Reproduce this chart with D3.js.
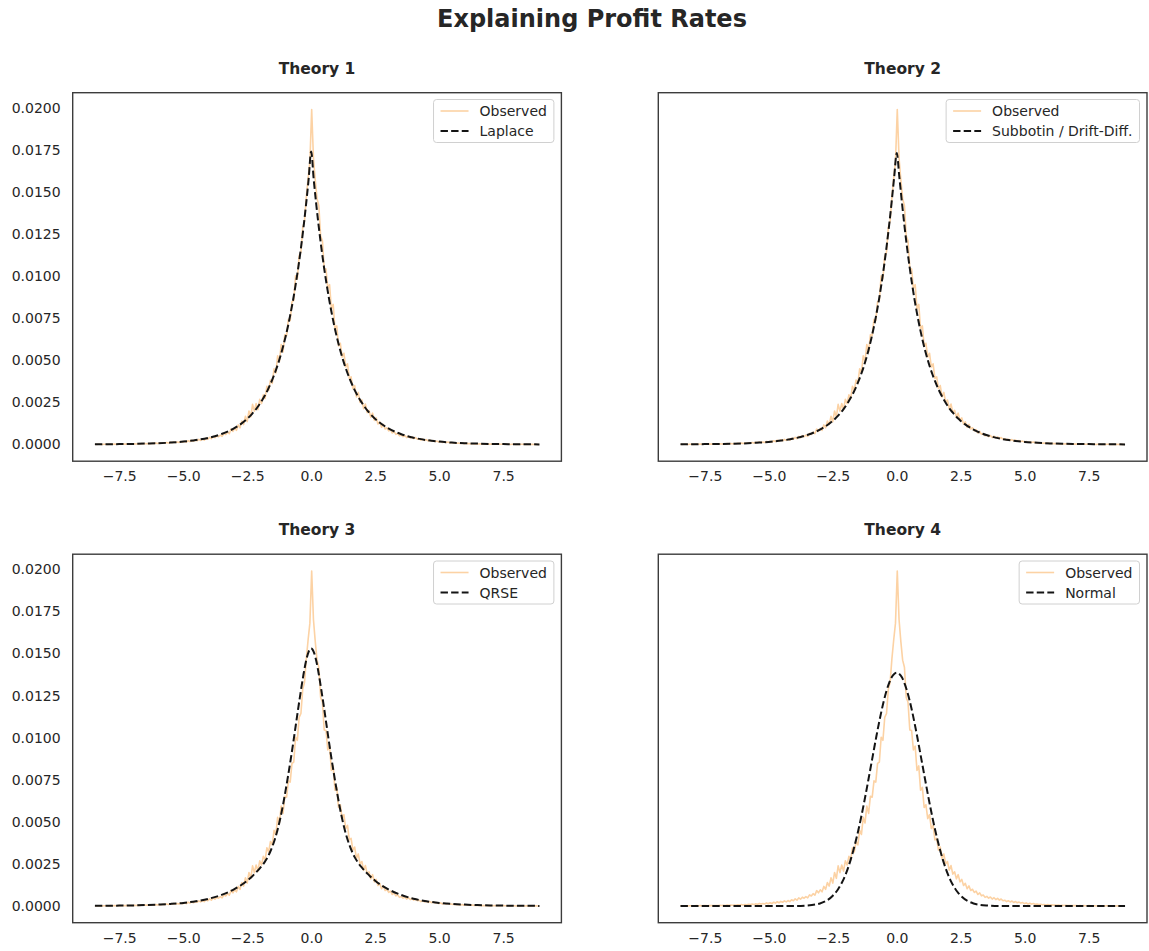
<!DOCTYPE html>
<html><head><meta charset="utf-8">
<script src="https://cdn.jsdelivr.net/npm/d3@7"></script>
<style>
body{margin:0;background:#fff}
svg{display:block}
text{font-family:"DejaVu Sans",sans-serif;fill:#262626}
</style>
</head><body>
<svg id="chart" width="1149" height="951"></svg>
<script>
// ---------------- DATA ----------------
const chartTitle = "Explaining Profit Rates";
const panelTitles = ["Theory 1", "Theory 2", "Theory 3", "Theory 4"];
const fitLabels = ["Laplace", "Subbotin / Drift-Diff.", "QRSE", "Normal"];
const observedLabel = "Observed";

// observed histogram (bin centers start at obsStart, spaced obsStep)
const obsStart = -8.45, obsStep = 0.07;
const observed = [
0.00001,0,0.00001,0.00001,0,0.00001,0.00001,0,0.00001,0.00002,
0.00001,0.00002,0.00001,0.00002,0.00002,0.00001,0.00003,0.00002,0.00002,0.00003,
0.00003,0.00002,0.00004,0.00003,0.00004,0.00003,0.00005,0.00004,0.00005,0.00004,
0.00006,0.00004,0.00007,0.00005,0.00008,0.00006,0.00009,0.00007,0.00010,0.00008,
0.00011,0.00008,0.00013,0.00010,0.00015,0.00011,0.00014,0.00012,0.00018,0.00013,
0.00019,0.00014,0.00022,0.00017,0.00025,0.00019,0.00027,0.00022,0.00030,0.00024,
0.00032,0.00026,0.00037,0.00031,0.00042,0.00034,0.00048,0.00040,0.00052,0.00046,
0.00055,0.00048,0.00066,0.00059,0.00073,0.00064,0.00091,0.00078,0.00096,0.00084,
0.00116,0.00099,0.00139,0.00118,0.00167,0.00136,0.00199,0.00164,0.00238,0.00198,
0.00243,0.00207,0.00268,0.00243,0.00295,0.00273,0.00346,0.00321,0.00383,0.00362,
0.00449,0.00425,0.00526,0.00493,0.00594,0.00550,0.00652,0.00646,0.00743,0.00736,
0.00847,0.00855,0.01002,0.00984,0.01120,0.01143,0.01288,0.01328,0.01468,0.01580,
0.01680,0.01990,0.01700,0.01570,0.01460,0.01418,0.01238,0.01210,0.01045,0.01042,
0.00927,0.00949,0.00805,0.00832,0.00687,0.00704,0.00585,0.00601,0.00519,0.00542,
0.00460,0.00479,0.00392,0.00402,0.00331,0.00350,0.00282,0.00309,0.00250,0.00264,
0.00213,0.00240,0.00189,0.00203,0.00161,0.00186,0.00143,0.00158,0.00122,0.00134,
0.00102,0.00119,0.00092,0.00099,0.00080,0.00088,0.00068,0.00078,0.00060,0.00065,
0.00051,0.00057,0.00046,0.00053,0.00041,0.00049,0.00038,0.00045,0.00035,0.00041,
0.00031,0.00034,0.00026,0.00031,0.00024,0.00029,0.00021,0.00026,0.00019,0.00023,
0.00017,0.00020,0.00014,0.00018,0.00012,0.00016,0.00011,0.00014,0.00010,0.00012,
0.00009,0.00010,0.00007,0.00009,0.00006,0.00008,0.00005,0.00007,0.00005,0.00006,
0.00004,0.00005,0.00003,0.00004,0.00003,0.00004,0.00002,0.00003,0.00002,0.00003,
0.00002,0.00002,0.00001,0.00002,0.00001,0.00002,0.00001,0.00001,0.00002,0.00001,
0.00001,0.00001,0,0.00001,0.00001,0,0.00001,0,0.00001,0.00001,
0,0.00001,0,0,0.00001,0,0.00001,0,0
];

// x positions of the fitted curves
const fitX = [-8.45,-8,-7.5,-7,-6.5,-6,-5.5,-5,-4.5,-4,-3.5,-3,
-2.5,-2.4,-2.3,-2.2,-2.1,-2,-1.9,-1.8,-1.7,-1.6,-1.5,-1.4,-1.3,-1.2,-1.1,-1,-0.9,-0.8,-0.7,-0.6,-0.5,-0.4,-0.3,-0.2,-0.1,
0,
0.1,0.2,0.3,0.4,0.5,0.6,0.7,0.8,0.9,1,1.1,1.2,1.3,1.4,1.5,1.6,1.7,1.8,1.9,2,2.1,2.2,2.3,2.4,2.5,
3,3.5,4,4.5,5,5.5,6,6.5,7,7.5,8,8.5,8.92];

const laplaceFit = [0.00001,0.00001,0.00002,0.00003,0.00005,0.00007,0.00011,0.00017,0.00026,0.00040,0.00062,0.00097,
0.00152,0.00167,0.00183,0.00201,0.00221,0.00243,0.00267,0.00294,0.00323,0.00356,0.00392,0.00432,0.00476,0.00525,0.00580,0.00640,0.00707,0.00782,0.00864,0.00955,0.01055,0.01166,0.01289,0.01425,0.01574,
0.01740,
0.01574,0.01425,0.01289,0.01166,0.01055,0.00955,0.00864,0.00782,0.00707,0.00640,0.00580,0.00525,0.00476,0.00432,0.00392,0.00356,0.00323,0.00294,0.00267,0.00243,0.00221,0.00201,0.00183,0.00167,0.00152,
0.00097,0.00062,0.00040,0.00026,0.00017,0.00011,0.00007,0.00005,0.00003,0.00002,0.00001,0.00001,0];

const subbotinFit = [0.00001,0.00001,0.00002,0.00003,0.00004,0.00006,0.00010,0.00015,0.00023,0.00036,0.00056,0.00088,
0.00140,0.00154,0.00170,0.00187,0.00206,0.00227,0.00251,0.00277,0.00306,0.00338,0.00374,0.00414,0.00458,0.00508,0.00563,0.00625,0.00694,0.00771,0.00856,0.00951,0.01056,0.01172,0.01300,0.01440,0.01590,
0.01732,
0.01590,0.01440,0.01300,0.01172,0.01056,0.00951,0.00856,0.00771,0.00694,0.00625,0.00563,0.00508,0.00458,0.00414,0.00374,0.00338,0.00306,0.00277,0.00251,0.00227,0.00206,0.00187,0.00170,0.00154,0.00140,
0.00088,0.00056,0.00036,0.00023,0.00015,0.00010,0.00006,0.00004,0.00003,0.00002,0.00001,0.00001,0];

const qrseFit = [0.00001,0.00001,0.00002,0.00003,0.00005,0.00008,0.00012,0.00018,0.00028,0.00043,0.00066,0.00100,
0.00150,0.00163,0.00177,0.00192,0.00208,0.00225,0.00243,0.00265,0.00290,0.00322,0.00360,0.00405,0.00460,0.00525,0.00600,0.00685,0.00775,0.00870,0.00970,0.01075,0.01180,0.01280,0.01375,0.01455,0.01510,
0.01530,
0.01510,0.01455,0.01375,0.01280,0.01180,0.01075,0.00970,0.00870,0.00775,0.00685,0.00600,0.00525,0.00460,0.00405,0.00360,0.00322,0.00290,0.00265,0.00243,0.00225,0.00208,0.00192,0.00177,0.00163,0.00150,
0.00100,0.00066,0.00043,0.00028,0.00018,0.00012,0.00008,0.00005,0.00003,0.00002,0.00001,0.00001,0];

const normalFit = [0,0,0,0,0,0,0,0,0,0,0.00003,0.00015,
0.00061,0.00078,0.00098,0.00123,0.00152,0.00187,0.00228,0.00275,0.00328,0.00387,0.00451,0.00521,0.00596,0.00675,0.00757,0.00840,0.00923,0.01005,0.01083,0.01156,0.01222,0.01278,0.01324,0.01358,0.01378,
0.01385,
0.01378,0.01358,0.01324,0.01278,0.01222,0.01156,0.01083,0.01005,0.00923,0.00840,0.00757,0.00675,0.00596,0.00521,0.00451,0.00387,0.00328,0.00275,0.00228,0.00187,0.00152,0.00123,0.00098,0.00078,0.00061,
0.00015,0.00003,0,0,0,0,0,0,0,0,0,0,0];

const fits = [laplaceFit, subbotinFit, qrseFit, normalFit];
const xTickValues = [-7.5, -5, -2.5, 0, 2.5, 5, 7.5];
const yTickValues = [0, 0.0025, 0.005, 0.0075, 0.01, 0.0125, 0.015, 0.0175, 0.02];

// ---------------- LAYOUT ----------------
const svg = d3.select("#chart");
const panelW = 488.7, panelH = 368.5;
const lefts = [72.7, 658.3], tops = [92.7, 554.2];
const obsColor = "#fcd2a4", fitColor = "#141414", frameColor = "#3c3c3c";

const obsPts = observed.map((v, i) => [obsStart + i * obsStep, v]);
const xMin = obsStart, xMax = obsStart + (observed.length - 1) * obsStep;
const yMax = d3.max(observed), yMin = 0;
const xPad = (xMax - xMin) * 0.05, yPad = (yMax - yMin) * 0.05;

svg.append("text").attr("x", 592).attr("y", 27).attr("text-anchor", "middle")
  .style("font-size", "24px").style("font-weight", "bold").text(chartTitle);

panelTitles.forEach((title, k) => {
  const col = k % 2, row = Math.floor(k / 2);
  const L = lefts[col], T = tops[row];
  const x = d3.scaleLinear().domain([xMin - xPad, xMax + xPad]).range([L, L + panelW]);
  const y = d3.scaleLinear().domain([yMin - yPad, yMax + yPad]).range([T + panelH, T]);
  const g = svg.append("g");

  // observed
  g.append("path").datum(obsPts)
    .attr("d", d3.line().x(d => x(d[0])).y(d => y(d[1])))
    .attr("fill", "none").attr("stroke", obsColor).attr("stroke-width", 1.6)
    .attr("stroke-linejoin", "round");

  // fit
  const fitPts = fitX.map((xv, i) => [xv, fits[k][i]]);
  g.append("path").datum(fitPts)
    .attr("d", d3.line().curve(d3.curveMonotoneX).x(d => x(d[0])).y(d => y(d[1])))
    .attr("fill", "none").attr("stroke", fitColor).attr("stroke-width", 2)
    .attr("stroke-dasharray", "7.4,3.2");

  // axes (no tick marks)
  const xAxis = d3.axisBottom(x).tickValues(xTickValues).tickSize(0).tickPadding(10)
    .tickFormat(d => d3.format(".1f")(d).replace("-", "\u2212"));
  const xg = g.append("g").attr("transform", `translate(0,${T + panelH})`).call(xAxis);
  xg.select(".domain").remove();
  xg.selectAll("text").style("font-size", "14px").attr("fill", "#262626")
    .attr("font-family", "DejaVu Sans");

  if (col === 0) {
    const yAxis = d3.axisLeft(y).tickValues(yTickValues).tickSize(0).tickPadding(12)
      .tickFormat(d3.format(".4f"));
    const yg = g.append("g").attr("transform", `translate(${L},0)`).call(yAxis);
    yg.select(".domain").remove();
    yg.selectAll("text").style("font-size", "14px").attr("fill", "#262626")
      .attr("font-family", "DejaVu Sans");
  }

  // frame
  g.append("rect").attr("x", L).attr("y", T).attr("width", panelW).attr("height", panelH)
    .attr("fill", "none").attr("stroke", frameColor).attr("stroke-width", 1.4);

  // title
  g.append("text").attr("x", L + panelW / 2).attr("y", T - 19).attr("text-anchor", "middle")
    .style("font-size", "15.5px").style("font-weight", "bold").text(title);

  // legend
  const lg = g.append("g");
  const box = lg.append("rect").attr("fill", "#fff").attr("fill-opacity", 0.8)
    .attr("stroke", "#d0d0d0").attr("stroke-width", 1).attr("rx", 3);
  const labels = [observedLabel, fitLabels[k]];
  let maxW = 0;
  const texts = labels.map((lab) => {
    const t = lg.append("text").style("font-size", "14px").text(lab);
    maxW = Math.max(maxW, t.node().getComputedTextLength());
    return t;
  });
  const boxW = 7 + 28 + 11 + maxW + 7, boxH = 43;
  const bx = L + panelW - 7.5 - boxW, by = T + 6.8;
  box.attr("x", bx).attr("y", by).attr("width", boxW).attr("height", boxH);
  texts.forEach((t, j) => {
    const cy = by + 11.5 + j * 20;
    t.attr("x", bx + 7 + 28 + 11).attr("y", cy).attr("dy", "0.36em");
    lg.append("line").attr("x1", bx + 7).attr("x2", bx + 35).attr("y1", cy).attr("y2", cy)
      .attr("stroke", j === 0 ? obsColor : fitColor).attr("stroke-width", j === 0 ? 1.6 : 2)
      .attr("stroke-dasharray", j === 0 ? null : "7.4,3.2");
  });
});
</script>
</body></html>
